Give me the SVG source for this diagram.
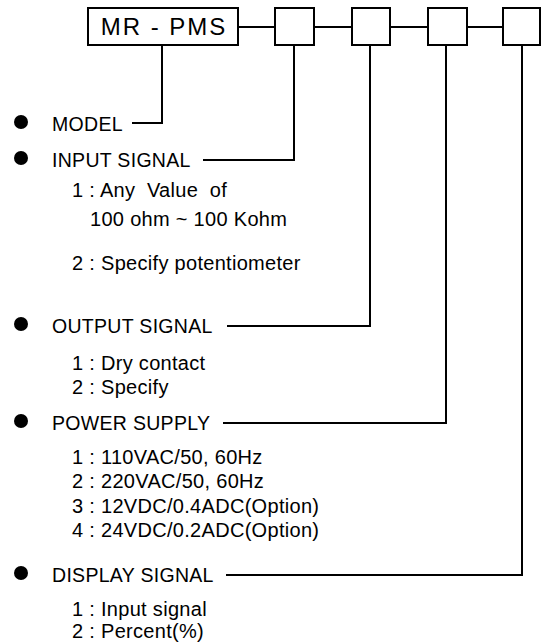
<svg xmlns="http://www.w3.org/2000/svg" width="542" height="643" viewBox="0 0 542 643">
<style>
.box{fill:#fff;stroke:#000;stroke-width:2}
.ln{fill:none;stroke:#000;stroke-width:2}
.h{font-family:"Liberation Sans",Arial,sans-serif;font-size:19.5px;letter-spacing:0.3px;fill:#000}
.it{font-family:"Liberation Sans",Arial,sans-serif;font-size:20px;letter-spacing:0.3px;fill:#000;white-space:pre}
.t{font-family:"Liberation Sans",Arial,sans-serif;font-size:24px;letter-spacing:2px;fill:#000;white-space:pre}
</style>
<rect width="542" height="643" fill="#fff"/>
<g id="connectors">
<path class="ln" d="M238 27H275M314 27H352M390 27H428M467 27H503"/>
<path class="ln" d="M162 45V123H132"/>
<path class="ln" d="M294 45V160H203"/>
<path class="ln" d="M370 45V326H227"/>
<path class="ln" d="M446 45V423H223"/>
<path class="ln" d="M522 45V575H226"/>
</g>
<g id="model-box"><rect class="box" x="88" y="8" width="150" height="37"/><text class="t" x="164" y="35" text-anchor="middle">MR - PMS</text></g>
<g id="box1"><rect class="box" x="275" y="8" width="39" height="37"/></g>
<g id="box2"><rect class="box" x="352" y="8" width="38" height="37"/></g>
<g id="box3"><rect class="box" x="428" y="8" width="39" height="37"/></g>
<g id="box4"><rect class="box" x="503" y="8" width="37" height="37"/></g>
<g id="model"><circle cx="21" cy="122" r="7"/><text class="h" x="52" y="131">MODEL</text></g>
<g id="input"><circle cx="21" cy="158" r="7"/><text class="h" x="52" y="167">INPUT SIGNAL</text>
<text class="it" x="72" y="197">1 : Any  Value  of</text>
<text class="it" x="90" y="226">100 ohm ~ 100 Kohm</text>
<text class="it" x="72" y="270">2 : Specify potentiometer</text></g>
<g id="output"><circle cx="21" cy="324" r="7"/><text class="h" x="52" y="333">OUTPUT SIGNAL</text>
<text class="it" x="72" y="370">1 : Dry contact</text>
<text class="it" x="72" y="394">2 : Specify</text></g>
<g id="power"><circle cx="21" cy="421" r="7"/><text class="h" x="52" y="430">POWER SUPPLY</text>
<text class="it" x="72" y="464">1 : 110VAC/50, 60Hz</text>
<text class="it" x="72" y="488">2 : 220VAC/50, 60Hz</text>
<text class="it" x="72" y="513">3 : 12VDC/0.4ADC(Option)</text>
<text class="it" x="72" y="537">4 : 24VDC/0.2ADC(Option)</text></g>
<g id="display"><circle cx="21" cy="573" r="7"/><text class="h" x="52" y="582">DISPLAY SIGNAL</text>
<text class="it" x="72" y="616">1 : Input signal</text>
<text class="it" x="72" y="638">2 : Percent(%)</text></g>
</svg>
